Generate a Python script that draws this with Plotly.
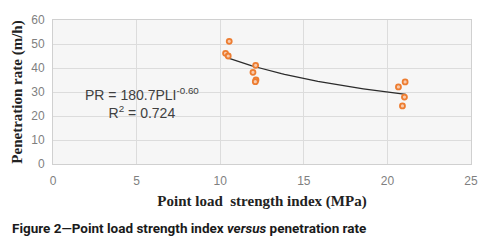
import plotly.graph_objects as go
import numpy as np

pli = [10.54, 10.32, 10.48, 12.12, 11.96, 12.14, 12.10, 21.06, 20.66, 21.02, 20.90]
pr = [51.1, 46.1, 45.0, 41.1, 38.2, 35.0, 34.3, 34.2, 32.1, 27.9, 24.2]
coef_a = 180.7
coef_b = -0.60
fit_x = np.linspace(10.4, 21.1, 60)
fit_y = coef_a * fit_x ** coef_b

fig = go.Figure()
fig.add_trace(go.Scatter(x=fit_x, y=fit_y, mode="lines",
                         line=dict(color="#2b2b2b", width=1.2), showlegend=False))
fig.add_trace(go.Scatter(x=pli, y=pr, mode="markers",
                         marker=dict(size=5, color="#f8cbad", line=dict(color="#ed7d31", width=1.8)),
                         showlegend=False))

plot_h = 245 - 20 - 81
plot_w = 504 - 53 - 33

fig.update_layout(
    width=504, height=245,
    margin=dict(l=53, r=33, t=20, b=81),
    paper_bgcolor="white", plot_bgcolor="#f6f6f6",
    xaxis=dict(range=[0, 25], dtick=5, showgrid=True, gridcolor="#dcdcdc", gridwidth=1,
               zeroline=False, showline=True, linecolor="#d0d0d0", mirror=True,
               automargin=False,
               tickfont=dict(family="Liberation Sans", size=12, color="#7f7f7f"),
               ticklabelstandoff=6,
               title=dict(text="<b>Point load  strength index (MPa)</b>", standoff=8,
                          font=dict(family="Liberation Serif", size=15, color="#222"))),
    yaxis=dict(range=[0, 60], dtick=10, showgrid=True, gridcolor="#dcdcdc", gridwidth=1,
               zeroline=False, showline=True, linecolor="#d0d0d0", mirror=True,
               automargin=False,
               tickfont=dict(family="Liberation Sans", size=12, color="#7f7f7f"),
               ticklabelstandoff=5,
               title=dict(text="<b>Penetration rate (m/h)</b>", standoff=4,
                          font=dict(family="Liberation Serif", size=15, color="#222"))),
    annotations=[
        dict(x=5.35, y=25.3, xref="x", yref="y", align="center",
             text="PR = 180.7PLI<sup>-0.60</sup><br>R<sup>2</sup> = 0.724", showarrow=False,
             font=dict(family="Liberation Sans", size=14, color="#404040")),
        dict(x=(10 - 53) / plot_w, y=(164 - 228) / plot_h, xref="paper", yref="paper",
             xanchor="left", yanchor="middle",
             text="Figure 2\u2014Point load strength index <i>versus</i> penetration rate",
             showarrow=False,
             font=dict(family="Roboto", size=13.5, weight="bold", color="#1a1a1a")),
    ],
)
fig.write_html("out.html", config={"displayModeBar": False},
               post_script="document.body.style.margin='0';document.body.style.overflow='hidden';")
